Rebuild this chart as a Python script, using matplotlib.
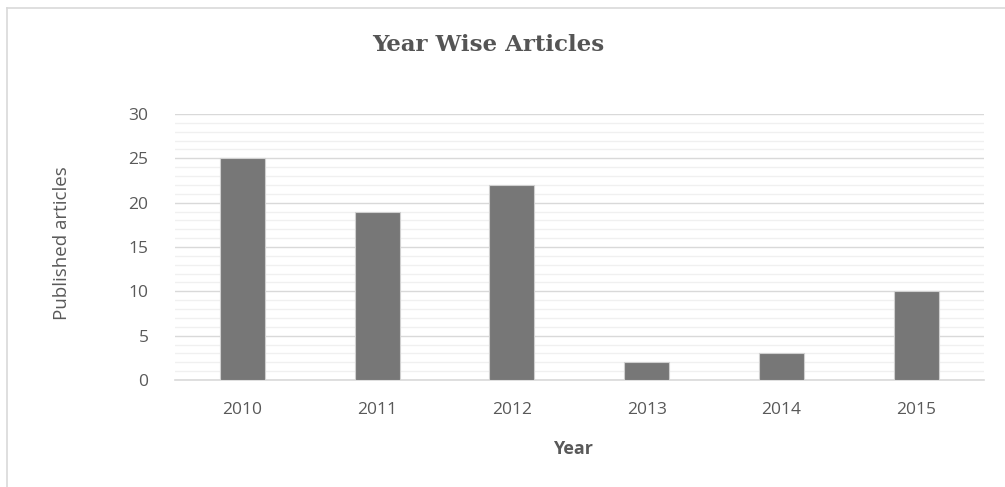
import matplotlib
matplotlib.use("Agg")
import matplotlib.pyplot as plt
from matplotlib.lines import Line2D
import numpy as np

years = ["2010", "2011", "2012", "2013", "2014", "2015"]
articles = [25, 19, 22, 2, 3, 10]
yticks = [0, 5, 10, 15, 20, 25, 30]

W, H = 1005, 487
fig = plt.figure(figsize=(W / 100, H / 100), dpi=100)
ax = fig.add_axes([175 / W, 1 - 380 / H, (983.5 - 175) / W, (380 - 114) / H])

x = np.arange(len(years))
ax.bar(x, articles, width=0.333, color="#777777", edgecolor="#d0d0d0", linewidth=0.8, zorder=3)

ax.set_xlim(-0.5, len(years) - 0.5)
ax.set_ylim(0, 30)
ax.set_yticks(yticks)
ax.set_yticks(np.arange(0, 31, 1), minor=True)
ax.set_xticks(x)
ax.set_xticklabels(years)
ax.grid(axis="y", which="minor", color="#f0f0f0", linewidth=1.0, zorder=0)
ax.grid(axis="y", which="major", color="#d9d9d9", linewidth=1.0, zorder=1)
for s in ["top", "right", "left"]:
    ax.spines[s].set_visible(False)
ax.spines["bottom"].set_color("#d9d9d9")
ax.spines["bottom"].set_linewidth(1.2)
ax.tick_params(axis="both", which="both", length=0, colors="#595959", labelsize=12.5)
ax.tick_params(axis="y", pad=19)
ax.tick_params(axis="x", pad=16)
for lab in ax.get_xticklabels() + ax.get_yticklabels():
    lab.set_fontfamily("Open Sans")

fig.text(488 / W, 1 - 45 / H, "Year Wise Articles", ha="center", va="center",
         fontsize=16.5, fontweight="bold", color="#555555", family="DejaVu Serif")
fig.text(62 / W, 1 - 243 / H, "Published articles", ha="center", va="center",
         rotation=90, fontsize=13.5, color="#595959", family="Open Sans")
fig.text(573 / W, 1 - 449 / H, "Year", ha="center", va="center",
         fontsize=13, fontweight="bold", color="#595959", family="Open Sans")

fig.add_artist(Line2D([7 / W, 7 / W], [0, 1 - 8 / H], transform=fig.transFigure, color="#d9d9d9", linewidth=1.2))
fig.add_artist(Line2D([7 / W, 1], [1 - 8 / H, 1 - 8 / H], transform=fig.transFigure, color="#d9d9d9", linewidth=1.2))

fig.savefig("out.png", dpi=100)
